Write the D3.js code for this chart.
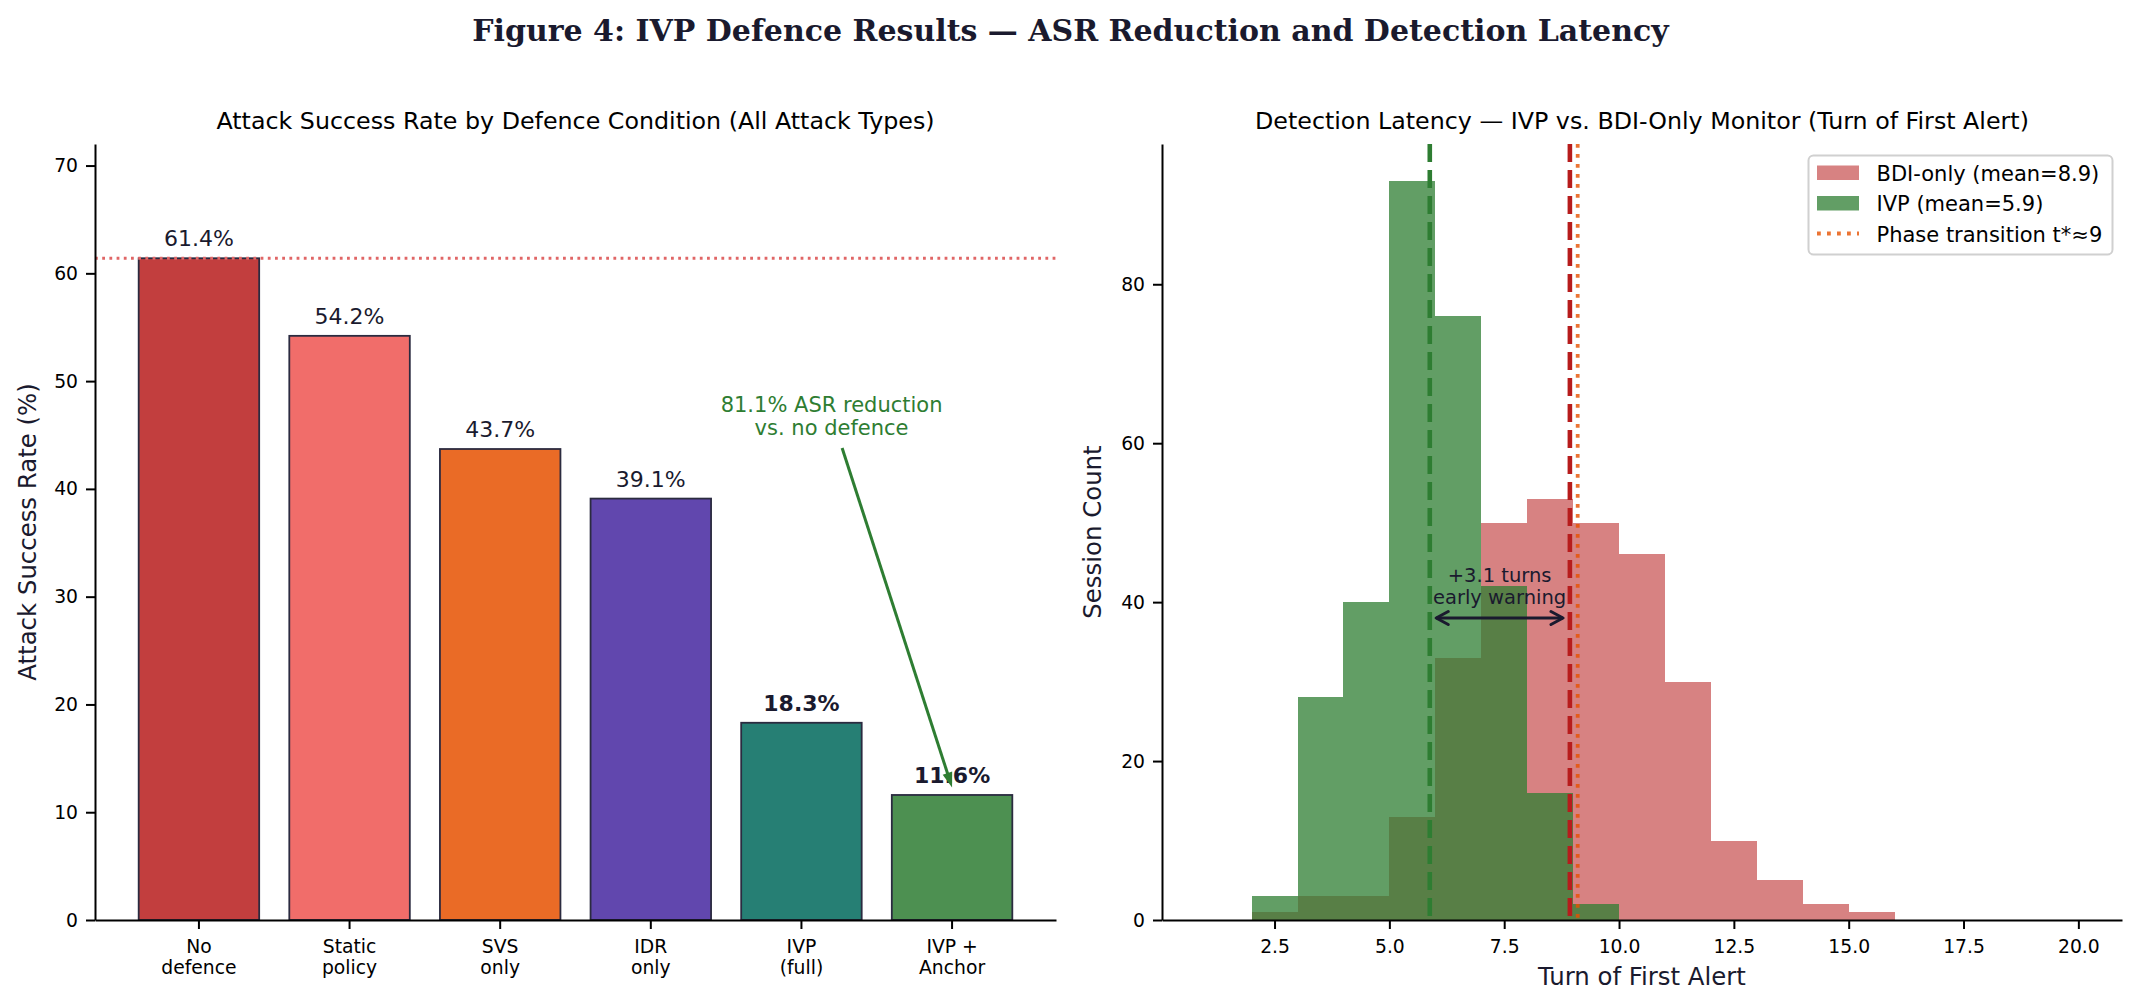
<!DOCTYPE html>
<html>
<head>
<meta charset="utf-8">
<script src="https://cdn.jsdelivr.net/npm/d3@7"></script>
<style>
  body { margin: 0; background: #fff; }
  text { font-family: "DejaVu Sans", sans-serif; }
</style>
</head>
<body>
<div class="figure"></div>
<script>
// ---- data ----
const conditions = ["No\ndefence", "Static\npolicy", "SVS\nonly", "IDR\nonly", "IVP\n(full)", "IVP +\nAnchor"];
const asrValues = [61.4, 54.2, 43.7, 39.1, 18.3, 11.6];
const barColors = ["#b71c1c", "#ef5350", "#e65100", "#4527a0", "#00695c", "#2e7d32"];
const boldLabel = [false, false, false, false, true, true];
const noDefenceLine = 61.4;
const asrTicks = [0, 10, 20, 30, 40, 50, 60, 70];

// histogram of turn of first alert, one count per bin [edge, edge+1)
const binStarts = [1, 2, 3, 4, 5, 6, 7, 8, 9, 10, 11, 12, 13, 14, 15, 16, 17, 18, 19];
const bdiCounts = [0, 1, 3, 3, 13, 33, 50, 53, 50, 46, 30, 10, 5, 2, 1, 0, 0, 0, 0];
const ivpCounts = [0, 3, 28, 40, 93, 76, 42, 16, 2, 0, 0, 0, 0, 0, 0, 0, 0, 0, 0];
const bdiMean = 8.93;
const ivpMean = 5.88;
const phaseT = 9.1;
const turnTicks = [2.5, 5.0, 7.5, 10.0, 12.5, 15.0, 17.5, 20.0];
const countTicks = [0, 20, 40, 60, 80];

const dark = "#1a1a2e";

const svg = d3.select(".figure").append("svg")
    .attr("width", 2141)
    .attr("height", 1008);

// main title
svg.append("text")
    .attr("x", 1070.5)
    .attr("y", 41)
    .attr("text-anchor", "middle")
    .style("font-family", "'DejaVu Serif', serif")
    .style("font-weight", "bold")
    .style("font-size", "30px")
    .style("fill", dark)
    .text("Figure 4: IVP Defence Results \u2014 ASR Reduction and Detection Latency");

const plotTop = 144, plotBottom = 920;

// helper for axis styling
function styleAxis(g) {
  g.select(".domain").attr("stroke", "#000").attr("stroke-width", 2);
  g.selectAll(".tick line").attr("stroke", "#000").attr("stroke-width", 2);
  g.selectAll(".tick text").style("font-size", "18.75px").attr("fill", "#000")
    .style("font-family", "'DejaVu Sans', sans-serif");
}

// ================= left panel: ASR bars =================
const L = { left: 95, right: 1056 };
const x = d3.scaleBand()
    .domain(conditions)
    .range([L.left, L.right])
    .paddingInner(0.2)
    .paddingOuter(0.29);
const y = d3.scaleLinear().domain([0, 72]).range([plotBottom, plotTop]);

const left = svg.append("g");

left.append("text")
    .attr("x", (L.left + L.right) / 2)
    .attr("y", 129)
    .attr("text-anchor", "middle")
    .style("font-size", "23.75px")
    .style("fill", "#000")
    .text("Attack Success Rate by Defence Condition (All Attack Types)");

// bars
left.selectAll("rect.bar")
  .data(asrValues)
  .enter().append("rect")
    .attr("class", "bar")
    .attr("x", (d, i) => x(conditions[i]))
    .attr("width", x.bandwidth())
    .attr("y", d => y(d))
    .attr("height", d => y(0) - y(d))
    .attr("fill", (d, i) => barColors[i])
    .attr("fill-opacity", 0.85)
    .attr("stroke", "#2b2b40")
    .attr("stroke-width", 1.8);

// reference line at the no-defence level
left.append("line")
    .attr("x1", L.left).attr("x2", L.right)
    .attr("y1", y(noDefenceLine)).attr("y2", y(noDefenceLine))
    .attr("stroke", "#e06666")
    .attr("stroke-width", 2.8)
    .attr("stroke-dasharray", "2.8,4.4");

// value labels
left.selectAll("text.val")
  .data(asrValues)
  .enter().append("text")
    .attr("class", "val")
    .attr("x", (d, i) => x(conditions[i]) + x.bandwidth() / 2)
    .attr("y", d => y(d + 1) - 1)
    .attr("text-anchor", "middle")
    .style("font-size", "22px")
    .style("font-weight", (d, i) => boldLabel[i] ? "bold" : "normal")
    .style("fill", dark)
    .text(d => d.toFixed(1) + "%");

// axes
const yAxisL = left.append("g")
    .attr("transform", "translate(" + L.left + ",0)")
    .call(d3.axisLeft(y).tickValues(asrTicks).tickSize(9).tickPadding(8).tickSizeOuter(0));
styleAxis(yAxisL);

const xAxisL = left.append("g")
    .attr("transform", "translate(0," + plotBottom + ")")
    .call(d3.axisBottom(x).tickSize(9).tickPadding(8).tickSizeOuter(0));
styleAxis(xAxisL);
xAxisL.selectAll(".tick text").each(function(d) {
  const t = d3.select(this).text("").attr("y", 0).attr("dy", null);
  d.split("\n").forEach((line, k) => {
    t.append("tspan").attr("x", 0).attr("y", 32.7 + k * 21.6).text(line);
  });
});

left.append("text")
    .attr("transform", "rotate(-90)")
    .attr("x", -(plotTop + plotBottom) / 2)
    .attr("y", 35.5)
    .attr("text-anchor", "middle")
    .style("font-size", "24.4px")
    .style("fill", dark)
    .text("Attack Success Rate (%)");

// reduction annotation
const xc = v => x(conditions[0]) + x.bandwidth() / 2 + v * x.step();
const annFrom = [4.27, 43.8], annTo = [5.0, 12.3];
const ax1 = xc(annFrom[0]), ay1 = y(annFrom[1]), ax2 = xc(annTo[0]), ay2 = y(annTo[1]);
const ang = Math.atan2(ay2 - ay1, ax2 - ax1);
const headL = 15, headW = 5;
left.append("line")
    .attr("x1", ax1).attr("y1", ay1)
    .attr("x2", ax2 - Math.cos(ang) * headL * 0.8).attr("y2", ay2 - Math.sin(ang) * headL * 0.8)
    .attr("stroke", "#2e7d32").attr("stroke-width", 3);
left.append("path")
    .attr("d", "M" + ax2 + "," + ay2 +
      "L" + (ax2 - Math.cos(ang) * headL - Math.sin(ang) * headW) + "," + (ay2 - Math.sin(ang) * headL + Math.cos(ang) * headW) +
      "L" + (ax2 - Math.cos(ang) * headL + Math.sin(ang) * headW) + "," + (ay2 - Math.sin(ang) * headL - Math.cos(ang) * headW) + "Z")
    .attr("fill", "#2e7d32");
const annT = left.append("text")
    .attr("text-anchor", "middle")
    .style("font-size", "21px")
    .style("fill", "#2e7d32");
["81.1% ASR reduction", "vs. no defence"].forEach((line, k) => {
  annT.append("tspan").attr("x", xc(4.2)).attr("y", y(47.1) + k * 22.5).text(line);
});

// ================= right panel: latency histogram =================
const R = { left: 1162, right: 2122 };
const x2 = d3.scaleLinear().domain([0.05, 20.95]).range([R.left, R.right]);
const y2 = d3.scaleLinear().domain([0, 97.65]).range([plotBottom, plotTop]);

const right = svg.append("g");

right.append("text")
    .attr("x", (R.left + R.right) / 2)
    .attr("y", 129)
    .attr("text-anchor", "middle")
    .style("font-size", "23.75px")
    .style("fill", "#000")
    .text("Detection Latency \u2014 IVP vs. BDI-Only Monitor (Turn of First Alert)");

// BDI first, IVP on top
right.selectAll("rect.bdi")
  .data(bdiCounts)
  .enter().append("rect")
    .attr("class", "bdi")
    .attr("x", (d, i) => x2(binStarts[i]))
    .attr("width", (d, i) => x2(binStarts[i] + 1) - x2(binStarts[i]))
    .attr("y", d => y2(d))
    .attr("height", d => y2(0) - y2(d))
    .attr("fill", "#b71c1c")
    .attr("fill-opacity", 0.55)
    .attr("shape-rendering", "crispEdges");

right.selectAll("rect.ivp")
  .data(ivpCounts)
  .enter().append("rect")
    .attr("class", "ivp")
    .attr("x", (d, i) => x2(binStarts[i]))
    .attr("width", (d, i) => x2(binStarts[i] + 1) - x2(binStarts[i]))
    .attr("y", d => y2(d))
    .attr("height", d => y2(0) - y2(d))
    .attr("fill", "#2e7d32")
    .attr("fill-opacity", 0.75)
    .attr("shape-rendering", "crispEdges");

// mean lines and phase transition
right.append("line")
    .attr("x1", x2(ivpMean)).attr("x2", x2(ivpMean))
    .attr("y1", plotTop).attr("y2", plotBottom)
    .attr("stroke", "#2e7d32").attr("stroke-width", 4.6)
    .attr("stroke-dasharray", "18,8");
right.append("line")
    .attr("x1", x2(bdiMean)).attr("x2", x2(bdiMean))
    .attr("y1", plotTop).attr("y2", plotBottom)
    .attr("stroke", "#b71c1c").attr("stroke-width", 4.6)
    .attr("stroke-dasharray", "18,8");
right.append("line")
    .attr("x1", x2(phaseT)).attr("x2", x2(phaseT))
    .attr("y1", plotTop).attr("y2", plotBottom)
    .attr("stroke", "#e65100").attr("stroke-opacity", 0.8).attr("stroke-width", 3.8)
    .attr("stroke-dasharray", "3.8,6.2");

// early warning arrow
const arrowY = y2(38);
const axA = x2(5.9) + 5.5, axB = x2(8.9) - 5.5;
right.append("line")
    .attr("x1", axA).attr("x2", axB)
    .attr("y1", arrowY).attr("y2", arrowY)
    .attr("stroke", dark).attr("stroke-width", 3);
right.append("path")
    .attr("d", "M" + (axA + 12) + "," + (arrowY - 6.5) + "L" + axA + "," + arrowY + "L" + (axA + 12) + "," + (arrowY + 6.5) +
      "M" + (axB - 12) + "," + (arrowY - 6.5) + "L" + axB + "," + arrowY + "L" + (axB - 12) + "," + (arrowY + 6.5))
    .attr("fill", "none").attr("stroke", dark).attr("stroke-width", 3)
    .attr("stroke-linecap", "round").attr("stroke-linejoin", "round");
const ewT = right.append("text")
    .attr("text-anchor", "middle")
    .style("font-size", "19.5px")
    .style("fill", dark);
["+3.1 turns", "early warning"].forEach((line, k) => {
  ewT.append("tspan").attr("x", x2(7.4)).attr("y", y2(42.5) + k * 21.6).text(line);
});

// axes
const yAxisR = right.append("g")
    .attr("transform", "translate(" + R.left + ",0)")
    .call(d3.axisLeft(y2).tickValues(countTicks).tickSize(9).tickPadding(8).tickSizeOuter(0));
styleAxis(yAxisR);

const xAxisR = right.append("g")
    .attr("transform", "translate(0," + plotBottom + ")")
    .call(d3.axisBottom(x2).tickValues(turnTicks).tickFormat(d3.format(".1f")).tickSize(9).tickPadding(8).tickSizeOuter(0));
styleAxis(xAxisR);
xAxisR.selectAll(".tick text").attr("y", 32.7).attr("dy", null);

right.append("text")
    .attr("x", (R.left + R.right) / 2)
    .attr("y", 985)
    .attr("text-anchor", "middle")
    .style("font-size", "24.4px")
    .style("fill", dark)
    .text("Turn of First Alert");

right.append("text")
    .attr("transform", "rotate(-90)")
    .attr("x", -(plotTop + plotBottom) / 2)
    .attr("y", 1101)
    .attr("text-anchor", "middle")
    .style("font-size", "24.4px")
    .style("fill", dark)
    .text("Session Count");

// legend
const legend = right.append("g");
legend.append("rect")
    .attr("x", 1808.5).attr("y", 155.5)
    .attr("width", 304).attr("height", 99)
    .attr("rx", 5)
    .attr("fill", "#fff").attr("fill-opacity", 0.8)
    .attr("stroke", "#d0d0d0").attr("stroke-width", 2);
legend.append("rect")
    .attr("x", 1817).attr("y", 165.5).attr("width", 42).attr("height", 14.5)
    .attr("fill", "#b71c1c").attr("fill-opacity", 0.55);
legend.append("rect")
    .attr("x", 1817).attr("y", 196).attr("width", 42).attr("height", 14.5)
    .attr("fill", "#2e7d32").attr("fill-opacity", 0.75);
legend.append("line")
    .attr("x1", 1817).attr("x2", 1859)
    .attr("y1", 233.5).attr("y2", 233.5)
    .attr("stroke", "#e65100").attr("stroke-opacity", 0.8).attr("stroke-width", 3.8)
    .attr("stroke-dasharray", "3.8,6.2");
const legendLabels = ["BDI-only (mean=8.9)", "IVP (mean=5.9)", "Phase transition t*\u22489"];
legend.selectAll("text")
  .data(legendLabels)
  .enter().append("text")
    .attr("x", 1876.5)
    .attr("y", (d, i) => 181 + i * 30.4)
    .style("font-size", "21px")
    .style("fill", "#000")
    .text(d => d);
</script>
</body>
</html>
